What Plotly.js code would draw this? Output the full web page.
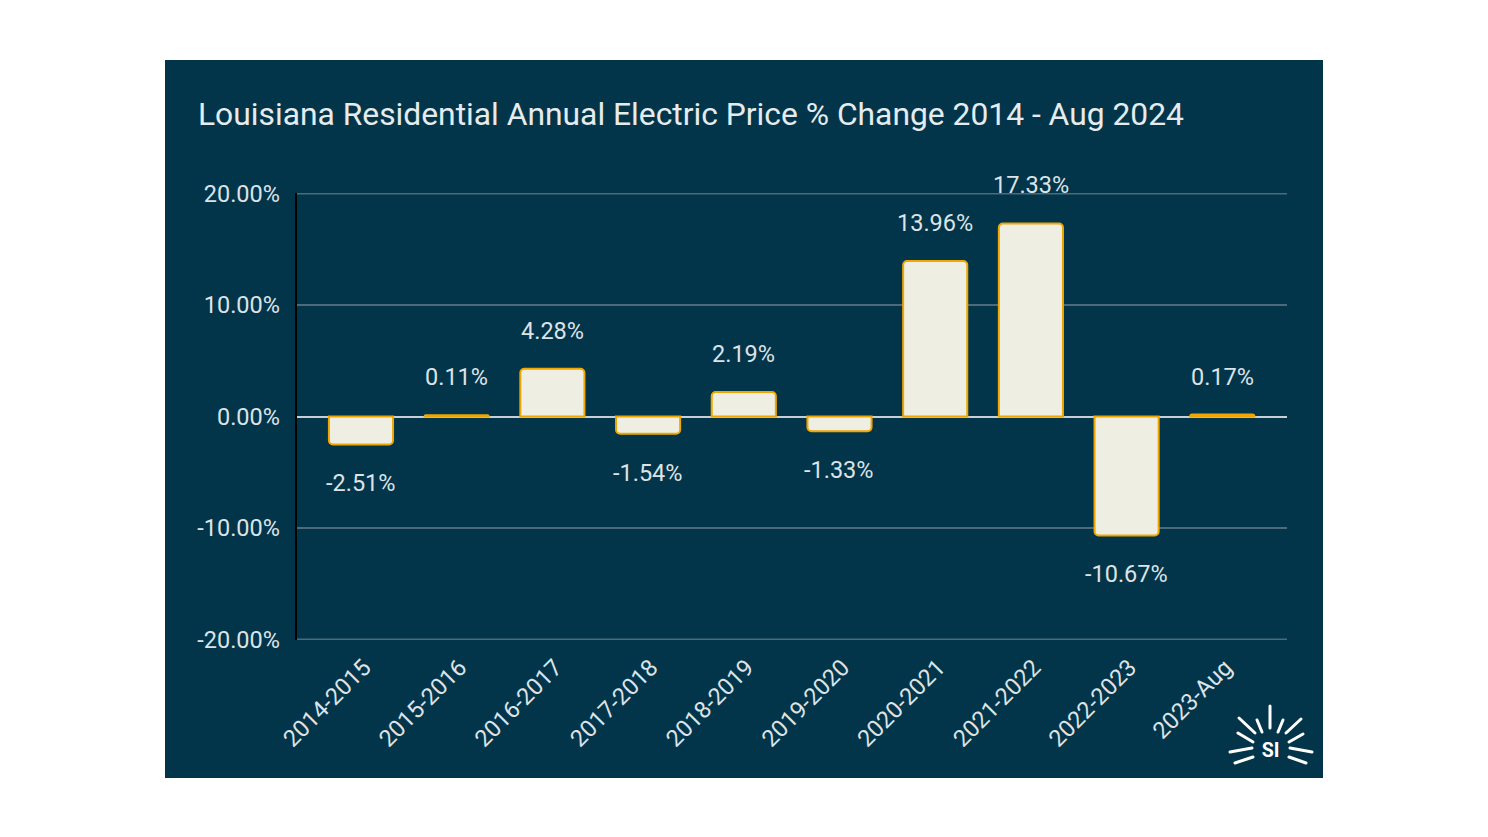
<!DOCTYPE html>
<html>
<head>
<meta charset="utf-8">
<script src="https://cdn.plot.ly/plotly-3.0.1.min.js"></script>
<style>
html,body{margin:0;padding:0;background:#ffffff;width:1488px;height:837px;overflow:hidden;}
#chart{position:absolute;left:165px;top:60px;width:1158px;height:718px;}
</style>
</head>
<body>
<div id="chart"></div>
<script>
const categories = ["2014-2015","2015-2016","2016-2017","2017-2018","2018-2019","2019-2020","2020-2021","2021-2022","2022-2023","2023-Aug"];
const pctChange = [-2.51, 0.11, 4.28, -1.54, 2.19, -1.33, 13.96, 17.33, -10.67, 0.17];
const yTickVals = [-20, -10, 0, 10, 20];
const yTickText = ["-20.00%","-10.00%","0.00%","10.00%","20.00%"];
const titleText = "Louisiana Residential Annual Electric Price % Change 2014 - Aug 2024";

const BG = "#03354a";
const TXT = "#dde3e6";
const GRID = "#4b6b7a";
const FONT = "Roboto, 'Noto Sans', sans-serif";

const bar = {
  type: "bar",
  x: categories,
  y: pctChange,
  width: 0.67,
  marker: {color: "#eeeee2", line: {color: "#f0a600", width: 2}, cornerradius: 4},
  hoverinfo: "x+y",
  cliponaxis: false
};

const annotations = pctChange.map((v, i) => ({
  x: categories[i], y: v, xref: "x", yref: "y",
  text: v.toFixed(2) + "%",
  showarrow: false,
  yanchor: "middle",
  yshift: v >= 0 ? 38 : -39,
  font: {family: FONT, size: 23.5, color: TXT}
}));

const logoSvg = `<svg xmlns='http://www.w3.org/2000/svg' width='108' height='75' viewBox='0 0 108 75'>
<g stroke='white' stroke-width='3' stroke-linecap='round'>
<line x1='55' y1='6' x2='55' y2='28'/>
<line x1='42' y1='20' x2='47' y2='32'/>
<line x1='68' y1='20' x2='63' y2='32'/>
<line x1='24' y1='18' x2='40' y2='33'/>
<line x1='86' y1='19' x2='71' y2='33'/>
<line x1='23' y1='33' x2='38' y2='42'/>
<line x1='88' y1='34' x2='74' y2='42'/>
<line x1='15' y1='52' x2='37' y2='48'/>
<line x1='97' y1='52' x2='75' y2='48'/>
<line x1='20' y1='63' x2='38' y2='57'/>
<line x1='91' y1='63' x2='74' y2='57'/>
</g>
<text x='55.5' y='57' font-family='Roboto, sans-serif' font-weight='bold' font-size='19.5' fill='white' text-anchor='middle'>SI</text>
</svg>`;

const edgeGrid = [yTickVals[0], yTickVals[yTickVals.length - 1]].map(v => ({
  type: "line", xref: "paper", yref: "y",
  x0: 0, x1: 1, y0: v, y1: v, layer: "below",
  line: {color: GRID, width: 1.5}
}));

const layout = {
  width: 1158, height: 718,
  paper_bgcolor: BG, plot_bgcolor: BG,
  margin: {l: 131, r: 36, t: 133, b: 138},
  title: {
    text: titleText,
    font: {family: FONT, size: 31.8, color: "#e6ecee"},
    x: 33/1158, xref: "container", xanchor: "left",
    y: 1 - 54/718, yref: "container", yanchor: "middle"
  },
  showlegend: false,
  bargap: 0.33,
  xaxis: {
    type: "category",
    range: [-0.679, 9.676],
    tickangle: -45,
    tickfont: {family: FONT, size: 23.5, color: TXT},
    showgrid: false, zeroline: false, showline: false,
    ticks: "", ticklen: 0,
    ticklabelstandoff: 8,
    ticklabelshift: 3
  },
  yaxis: {
    range: [-20.06, 20.06],
    tickvals: yTickVals, ticktext: yTickText,
    tickfont: {family: FONT, size: 23.5, color: TXT},
    showgrid: true, gridcolor: GRID, gridwidth: 1.5,
    zeroline: true, zerolinecolor: "#c7d0d6", zerolinewidth: 2,
    showline: false,
    ticks: "", ticklabelstandoff: 15
  },
  shapes: edgeGrid.concat([{
    type: "line", xref: "paper", yref: "paper",
    x0: 0, x1: 0, y0: 0, y1: 1,
    line: {color: "#000000", width: 2}
  }]),
  annotations: annotations,
  images: [{
    source: "data:image/svg+xml;charset=utf-8," + encodeURIComponent(logoSvg),
    xref: "paper", yref: "paper",
    x: (1215-296)/991, y: (640-700)/447, sizex: 108/991, sizey: 75/447,
    xanchor: "left", yanchor: "top", sizing: "stretch", layer: "above"
  }]
};

Plotly.newPlot("chart", [bar], layout, {displayModeBar: false, staticPlot: true});
</script>
</body>
</html>
